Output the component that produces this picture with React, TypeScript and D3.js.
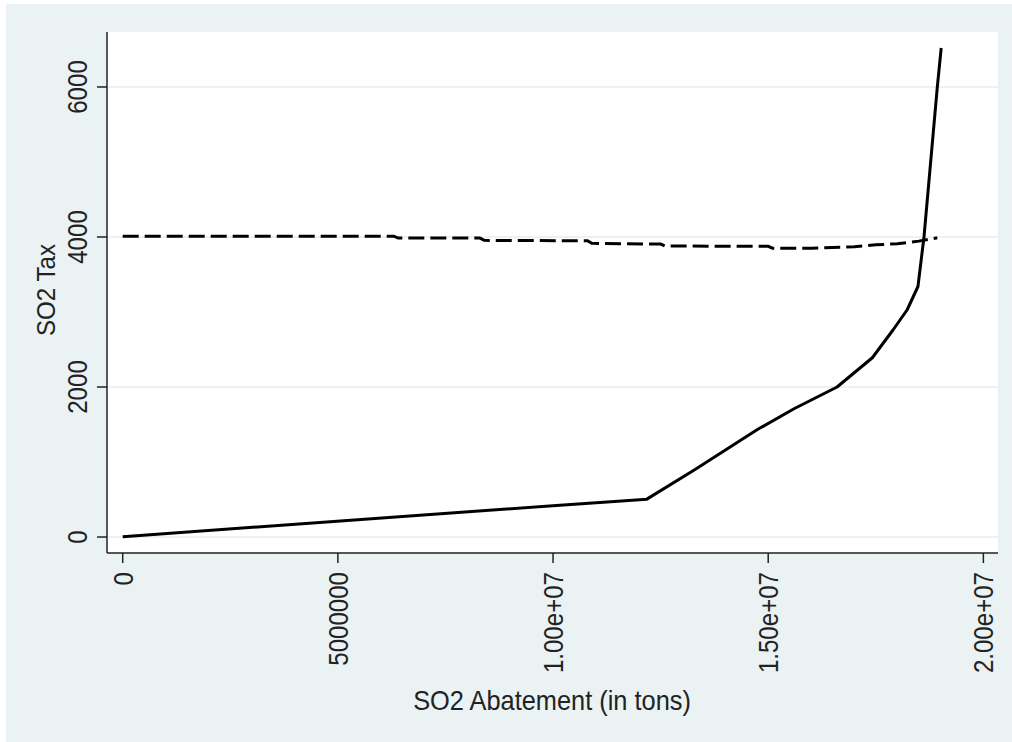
import React, { useEffect, useRef } from 'react';
import * as d3 from 'd3';

// solid line: abatement (tons) vs tax
const supplyX = [0, 10160000, 12180000, 13300000, 14740000, 15600000, 16600000, 17420000, 17900000, 18230000, 18480000, 18620000, 18930000, 19020000];
const supplyY = [5, 425, 505, 900, 1430, 1710, 2000, 2390, 2760, 3030, 3340, 4000, 6000, 6520];

// dashed line
const taxX = [0, 6300000, 6400000, 8300000, 8400000, 10800000, 10900000, 12500000, 12600000, 15000000, 15100000, 16000000, 17000000, 17500000, 18000000, 18500000, 18930000];
const taxY = [4010, 4010, 3985, 3985, 3955, 3950, 3915, 3905, 3880, 3875, 3850, 3850, 3870, 3895, 3910, 3945, 3990];

const xTicks = [0, 5000000, 10000000, 15000000, 20000000];
const xTickLabels = ['0', '5000000', '1.00e+07', '1.50e+07', '2.00e+07'];
const yTicks = [0, 2000, 4000, 6000];
const yTickLabels = ['0', '2000', '4000', '6000'];

const FONT = '"Liberation Sans", Arial, sans-serif';

const AbatementChart = () => {
  const ref = useRef<SVGSVGElement | null>(null);

  useEffect(() => {
    if (!ref.current) return;
    const svg = d3.select(ref.current);
    svg.selectAll('*').remove();

    const plot = { left: 107, right: 998, top: 32, bottom: 553 };

    const x = d3.scaleLinear().domain([-365000, 20340000]).range([plot.left, plot.right]);
    const y = d3.scaleLinear().domain([-213, 6733]).range([plot.bottom, plot.top]);

    svg.append('rect')
      .attr('x', 6).attr('y', 4)
      .attr('width', 1006).attr('height', 738)
      .attr('fill', '#eaf2f3');

    svg.append('rect')
      .attr('x', plot.left).attr('y', plot.top)
      .attr('width', plot.right - plot.left).attr('height', plot.bottom - plot.top)
      .attr('fill', '#ffffff');

    // grid
    svg.append('g').selectAll('line')
      .data(yTicks)
      .enter().append('line')
      .attr('x1', plot.left).attr('x2', plot.right)
      .attr('y1', (d) => y(d)).attr('y2', (d) => y(d))
      .attr('stroke', '#e3eef0')
      .attr('stroke-width', 1.5);

    // lines
    const supply = supplyX.map((v, i) => [v, supplyY[i]]);
    const tax = taxX.map((v, i) => [v, taxY[i]]);
    const line = d3.line<number[]>().x((d) => x(d[0])).y((d) => y(d[1]));

    svg.append('path')
      .attr('d', line(tax))
      .attr('fill', 'none')
      .attr('stroke', '#000')
      .attr('stroke-width', 3)
      .attr('stroke-dasharray', '16,6');

    svg.append('path')
      .attr('d', line(supply))
      .attr('fill', 'none')
      .attr('stroke', '#000')
      .attr('stroke-width', 3)
      .attr('stroke-linejoin', 'round');

    // axes
    const axisColor = '#222';
    svg.append('line')
      .attr('x1', plot.left).attr('x2', plot.left)
      .attr('y1', plot.top).attr('y2', plot.bottom)
      .attr('stroke', axisColor).attr('stroke-width', 1.5);
    svg.append('line')
      .attr('x1', plot.left).attr('x2', plot.right)
      .attr('y1', plot.bottom).attr('y2', plot.bottom)
      .attr('stroke', axisColor).attr('stroke-width', 1.5);

    const yg = svg.append('g');
    yTicks.forEach((t, i) => {
      yg.append('line')
        .attr('x1', plot.left - 10).attr('x2', plot.left)
        .attr('y1', y(t)).attr('y2', y(t))
        .attr('stroke', axisColor).attr('stroke-width', 1.5);
      yg.append('text')
        .attr('transform', `translate(87,${y(t)}) rotate(-90) scale(0.86,1)`)
        .attr('text-anchor', 'middle')
        .attr('font-family', FONT)
        .attr('font-size', 28)
        .attr('fill', '#222')
        .text(yTickLabels[i]);
    });

    const xg = svg.append('g');
    xTicks.forEach((t, i) => {
      xg.append('line')
        .attr('x1', x(t)).attr('x2', x(t))
        .attr('y1', plot.bottom).attr('y2', plot.bottom + 10)
        .attr('stroke', axisColor).attr('stroke-width', 1.5);
      xg.append('text')
        .attr('transform', `translate(${x(t) + 10},572) rotate(-90) scale(0.86,1)`)
        .attr('text-anchor', 'end')
        .attr('font-family', FONT)
        .attr('font-size', 28)
        .attr('fill', '#222')
        .text(xTickLabels[i]);
    });

    svg.append('text')
      .attr('transform', 'translate(552,710) scale(0.94,1)')
      .attr('text-anchor', 'middle')
      .attr('font-family', FONT)
      .attr('font-size', 27)
      .attr('fill', '#222')
      .text('SO2 Abatement (in tons)');

    svg.append('text')
      .attr('transform', 'translate(55,290) rotate(-90) scale(0.93,1)')
      .attr('text-anchor', 'middle')
      .attr('font-family', FONT)
      .attr('font-size', 26)
      .attr('fill', '#222')
      .text('SO2 Tax');
  }, []);

  return (
    <svg
      ref={ref}
      width={1012}
      height={742}
      style={{ position: 'absolute', left: 0, top: 0, background: '#fff' }}
    />
  );
};

export default function App() {
  return <AbatementChart />;
}
